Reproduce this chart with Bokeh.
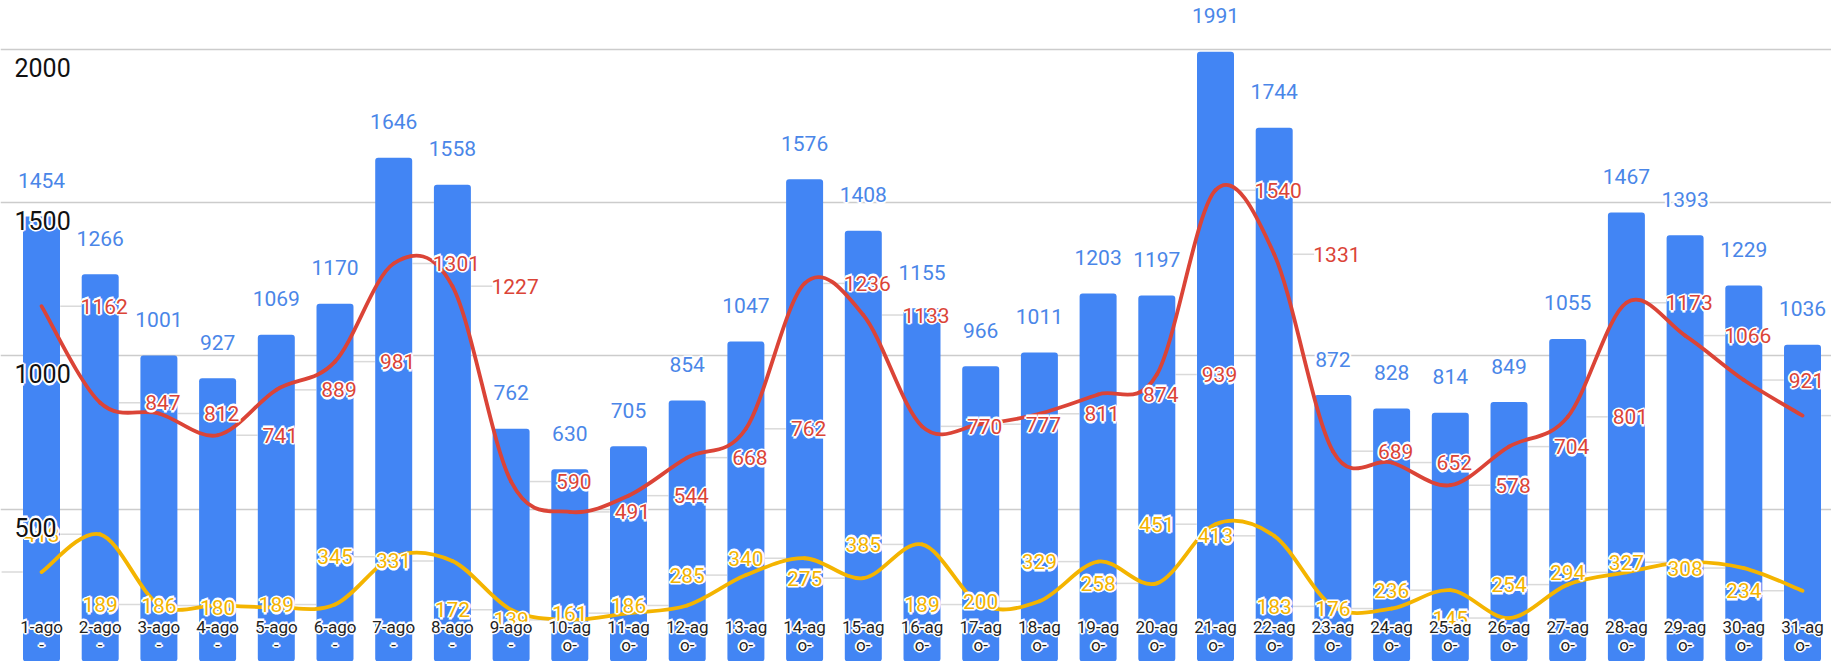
from bokeh.plotting import figure
from bokeh.models import ColumnDataSource, Range1d, FixedTicker, Grid
from bokeh.embed import file_html
from bokeh.resources import INLINE
from bokeh.core.properties import value

# ---------------- data ----------------
categories = ["1-ago-", "2-ago-", "3-ago-", "4-ago-", "5-ago-", "6-ago-", "7-ago-",
              "8-ago-", "9-ago-", "10-ago-", "11-ago-", "12-ago-", "13-ago-", "14-ago-",
              "15-ago-", "16-ago-", "17-ago-", "18-ago-", "19-ago-", "20-ago-", "21-ago-",
              "22-ago-", "23-ago-", "24-ago-", "25-ago-", "26-ago-", "27-ago-", "28-ago-",
              "29-ago-", "30-ago-", "31-ago-"]
bar_values = [1454, 1266, 1001, 927, 1069, 1170, 1646, 1558, 762, 630, 705, 854, 1047, 1576,
              1408, 1155, 966, 1011, 1203, 1197, 1991, 1744, 872, 828, 814, 849, 1055, 1467,
              1393, 1229, 1036]
red_values = [1162, 847, 812, 741, 889, 981, 1301, 1227, 590, 491, 544, 668, 762, 1236,
              1133, 770, 777, 811, 874, 939, 1540, 1331, 689, 652, 578, 704, 801, 1173,
              1066, 921, 805]
yellow_values = [295, 418, 189, 186, 180, 189, 345, 331, 172, 139, 161, 186, 285, 340,
                 275, 385, 189, 200, 329, 258, 451, 413, 183, 176, 236, 145, 254, 294,
                 327, 308, 234]
y_ticks = [500, 1000, 1500, 2000]
y_tick_labels = ["500", "1000", "1500", "2000"]

# ---------------- styles ----------------
BLUE = "#4285F4"
BLUE_TXT = "#4a86e8"
RED = "#DB4437"
YELLOW = "#F4B400"
FONT = value("Roboto")

W, H = 1831, 661
X0, X1 = 0.3015, 31.494
Y0, Y1 = 3.3, 2158.5

n = len(categories)
xs = list(range(1, n + 1))

p = figure(width=W, height=H, x_range=Range1d(X0, X1), y_range=Range1d(Y0, Y1),
           output_backend="svg", toolbar_location=None, min_border=0,
           x_axis_location=None, y_axis_location=None)
p.outline_line_color = None
p.background_fill_color = "white"
for g in list(p.xgrid) + list(p.ygrid):
    g.visible = False
p.add_layout(Grid(dimension=1, ticker=FixedTicker(ticks=y_ticks),
                  grid_line_color="#cccccc", grid_line_width=1.6))

# leader lines for the line-series labels
red_lead = ColumnDataSource(dict(x0=[x + 0.32 for x in xs], x1=[x + 0.68 for x in xs], y=red_values))
yel_lead = ColumnDataSource(dict(x0=[x - 0.68 for x in xs], x1=[x - 0.32 for x in xs], y=yellow_values))
p.segment(x0="x0", y0="y", x1="x1", y1="y", source=red_lead, line_color="#dadada", line_width=1.5)
p.segment(x0="x0", y0="y", x1="x1", y1="y", source=yel_lead, line_color="#dadada", line_width=1.5)

# bars
bars = ColumnDataSource(dict(x=xs, top=bar_values))
p.vbar(x="x", top="top", bottom=0, width=0.63, source=bars, fill_color=BLUE,
       line_color=None, border_radius=3)


def smooth(vals, color, width):
    m = len(vals)
    P = list(zip(xs, vals))
    x0, y0, x1, y1, cx0, cy0, cx1, cy1 = ([] for _ in range(8))
    for i in range(m - 1):
        pm = P[i - 1] if i > 0 else P[i]
        p0 = P[i]
        p1 = P[i + 1]
        p2 = P[i + 2] if i + 2 < m else P[i + 1]
        x0.append(p0[0]); y0.append(p0[1]); x1.append(p1[0]); y1.append(p1[1])
        cx0.append(p0[0] + (p1[0] - pm[0]) / 6); cy0.append(p0[1] + (p1[1] - pm[1]) / 6)
        cx1.append(p1[0] - (p2[0] - p0[0]) / 6); cy1.append(p1[1] - (p2[1] - p0[1]) / 6)
    src = ColumnDataSource(dict(x0=x0, y0=y0, x1=x1, y1=y1, cx0=cx0, cy0=cy0, cx1=cx1, cy1=cy1))
    p.bezier(x0="x0", y0="y0", x1="x1", y1="y1", cx0="cx0", cy0="cy0", cx1="cx1", cy1="cy1",
             source=src, line_color=color, line_width=width, line_cap="round")


smooth(red_values, RED, 3.8)
smooth(yellow_values, YELLOW, 3.8)

HALO = [(-1.5, 0), (1.5, 0), (0, -1.5), (0, 1.5)]


def haloed_text(source, text, color, size, x_offset=0, y_offset=0, **kw):
    # white halo underneath, coloured text on top
    for dx, dy in HALO:
        p.text(x="x", y="y", text=text, source=source, text_font=FONT, text_font_size=size,
               text_color="white", text_outline_color="white",
               x_offset=x_offset + dx, y_offset=y_offset + dy, **kw)
    p.text(x="x", y="y", text=text, source=source, text_font=FONT, text_font_size=size,
           text_color=color, x_offset=x_offset, y_offset=y_offset, **kw)


# bar value labels
bar_lab = ColumnDataSource(dict(x=xs, y=bar_values, lab=[str(v) for v in bar_values]))
haloed_text(bar_lab, "lab", BLUE_TXT, "21px", text_align="center", text_baseline="middle",
            y_offset=-36)

# red labels (placed one category to the right of their point; last one falls off the chart)
red_idx = [i for i in range(n) if xs[i] + 1 <= n]
red_src = ColumnDataSource(dict(x=[xs[i] + 1 for i in red_idx], y=[red_values[i] for i in red_idx],
                                lab=[str(red_values[i]) for i in red_idx]))
haloed_text(red_src, "lab", RED, "21px", text_align="center", text_baseline="middle", x_offset=4)

# yellow labels (placed one category to the left of their point; first one falls off the chart)
yel_idx = [i for i in range(n) if xs[i] - 1 >= 1]
yel_src = ColumnDataSource(dict(x=[xs[i] - 1 for i in yel_idx], y=[yellow_values[i] for i in yel_idx],
                                lab=[str(yellow_values[i]) for i in yel_idx]))
haloed_text(yel_src, "lab", YELLOW, "21px", text_align="center", text_baseline="middle")

# category labels (wrapped at 5 characters)
cat1 = ColumnDataSource(dict(x=xs, y=[Y0] * n, lab=[c[:5] for c in categories]))
cat2 = ColumnDataSource(dict(x=xs, y=[Y0] * n, lab=[c[5:] for c in categories]))
haloed_text(cat1, "lab", "#222222", "17px", text_align="center", text_baseline="middle", y_offset=-35)
haloed_text(cat2, "lab", "#222222", "17px", text_align="center", text_baseline="middle", y_offset=-17)

# y tick labels inside the plot
yt_src = ColumnDataSource(dict(x=[X0] * len(y_ticks), y=y_ticks, lab=y_tick_labels))
haloed_text(yt_src, "lab", "#111111", "25px", text_align="left", text_baseline="middle",
            x_offset=14, y_offset=18)

open("out.html", "w").write(file_html(p, INLINE))
